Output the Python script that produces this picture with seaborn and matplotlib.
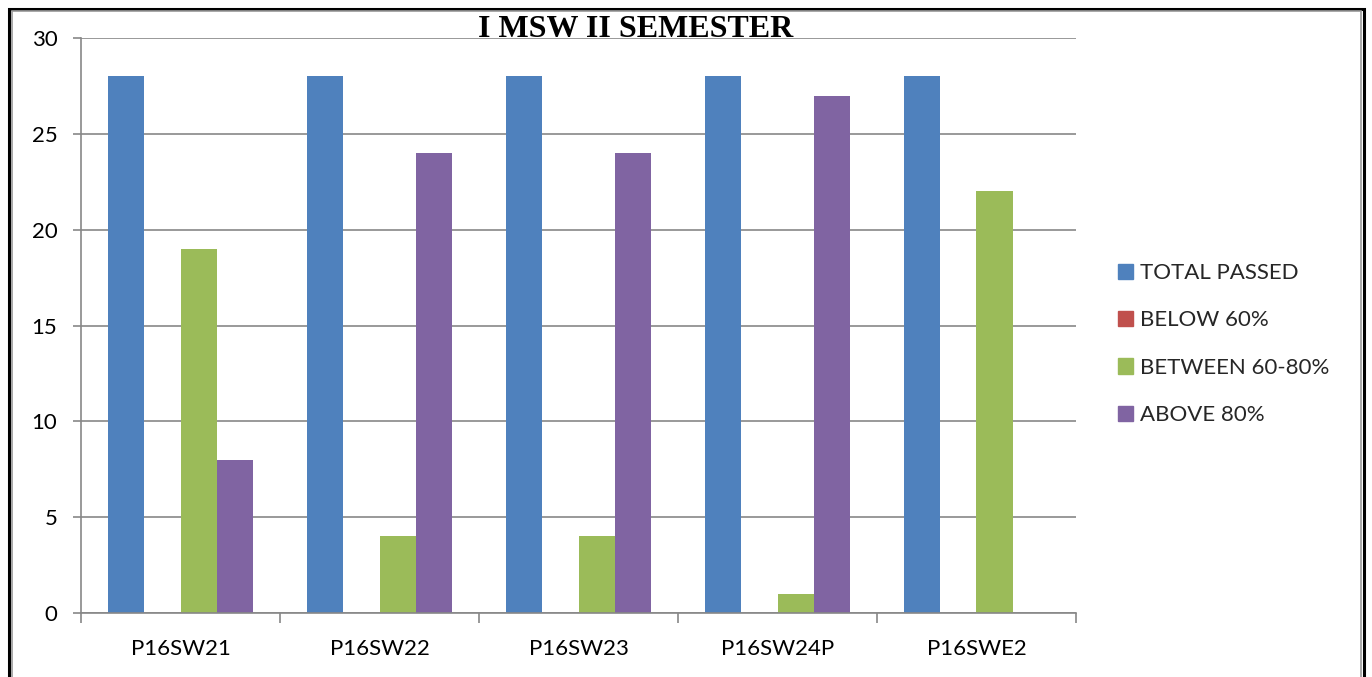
import matplotlib
matplotlib.use("Agg")
import matplotlib.pyplot as plt
import seaborn as sns
import pandas as pd
from matplotlib.patches import Rectangle

courses = ["P16SW21", "P16SW22", "P16SW23", "P16SW24P", "P16SWE2"]
series = ["TOTAL PASSED", "BELOW 60%", "BETWEEN 60-80%", "ABOVE 80%"]
total_passed = [28, 28, 28, 28, 28]
below_60 = [0, 0, 0, 0, 0]
between_60_80 = [19, 4, 4, 1, 22]
above_80 = [8, 24, 24, 27, 0]
colors = ["#4F81BD", "#C0504D", "#9BBB59", "#8064A2"]
title = "I MSW II SEMESTER"

rows = []
for s, vals in zip(series, [total_passed, below_60, between_60_80, above_80]):
    for c, v in zip(courses, vals):
        rows.append({"course": c, "series": s, "value": v})
df = pd.DataFrame(rows)

sns.set_theme(style="white")
plt.rcParams["font.family"] = ["Lato", "DejaVu Sans"]

W, H = 1372, 677
fig = plt.figure(figsize=(W / 100, H / 100), dpi=100)
fig.patch.set_facecolor("white")
ax = fig.add_axes([81 / W, (H - 613) / H, (1076 - 81) / W, (613 - 38) / H])

sns.barplot(data=df, x="course", y="value", hue="series", order=courses,
            hue_order=series, palette=colors, width=0.727, gap=0,
            saturation=1, linewidth=0, ax=ax, legend=False)

grid_c = "#878787"
ax.set_ylim(0, 30)
ax.set_xlim(-0.5, len(courses) - 0.5)
ax.set_yticks(range(0, 31, 5))
ax.yaxis.grid(True, color=grid_c, linewidth=1.2)
ax.set_axisbelow(True)
for side in ["top", "right"]:
    ax.spines[side].set_visible(False)
for side in ["left", "bottom"]:
    ax.spines[side].set_color(grid_c)
    ax.spines[side].set_linewidth(1.2)
ax.set_xlabel("")
ax.set_ylabel("")
ax.tick_params(axis="y", length=6, width=1.2, color=grid_c, pad=11, labelsize=16,
               labelcolor="black", left=True)
ax.tick_params(axis="x", which="major", length=0, pad=19, labelsize=16, labelcolor="black")
ax.set_xticks([i - 0.5 for i in range(len(courses) + 1)], minor=True)
ax.tick_params(axis="x", which="minor", length=7, width=1.2, color=grid_c, bottom=True)

handles = [Rectangle((0, 0), 1, 1, color=c) for c in colors]
leg = fig.legend(handles, series, loc="center left", bbox_to_anchor=(1098 / W, 1 - 344 / H),
                 frameon=False, fontsize=16, handlelength=0.68, handleheight=0.68,
                 handletextpad=0.32, labelspacing=1.23)

fig.text(636 / W, 1 - 37 / H, title, ha="center", va="baseline",
         fontsize=23, fontweight="bold", color="black", family=["Liberation Serif"])

# outer frame
fig.add_artist(Rectangle((8.5 / W, -0.1), (1364 - 8.5) / W, 1.1 - 8.5 / H,
                         transform=fig.transFigure, fill=False, edgecolor="black",
                         linewidth=2.2))
fig.add_artist(Rectangle((12 / W, -0.1), (1361 - 12) / W, 1.1 - 10.5 / H,
                         transform=fig.transFigure, fill=False, edgecolor="#9a9a9a",
                         linewidth=1.2))

fig.savefig("out.png", dpi=100)
